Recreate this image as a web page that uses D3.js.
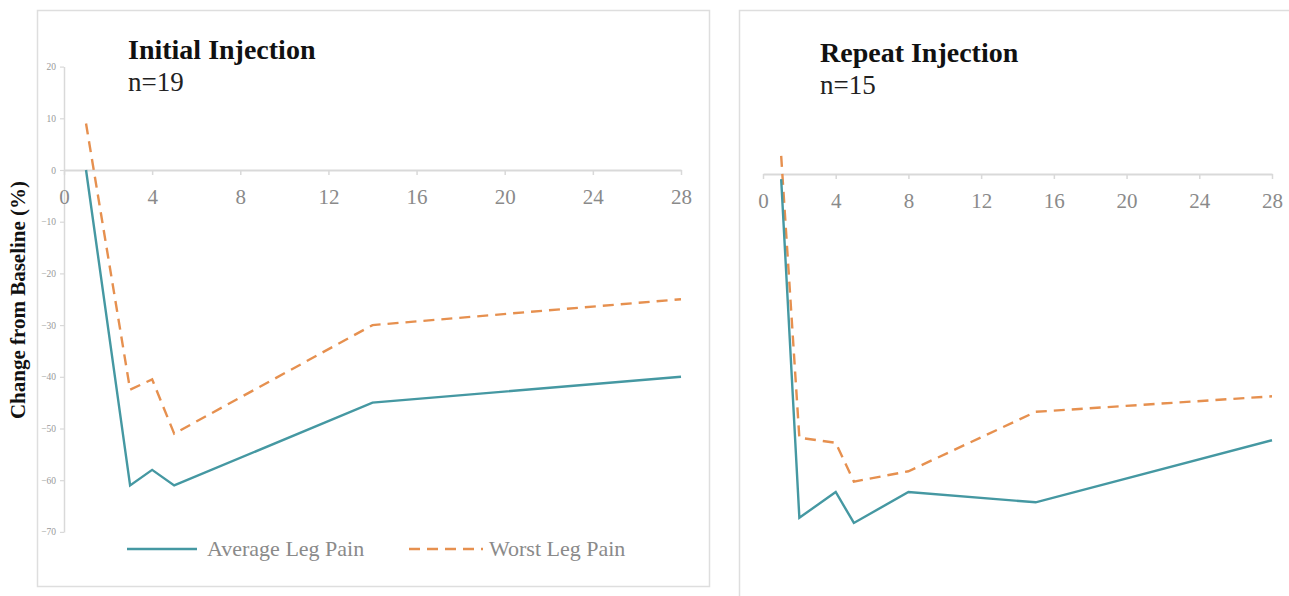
<!DOCTYPE html>
<html>
<head>
<meta charset="utf-8">
<script src="https://cdn.jsdelivr.net/npm/d3@7"></script>
<style>
  html, body { margin: 0; padding: 0; background: #fff; }
  svg { display: block; }
</style>
</head>
<body>
<svg id="chart" width="1289" height="596"></svg>
<script>
// ---- Data ----
const days1 = [1, 3, 4, 5, 14, 28];
const avgPain1 = [0, -61, -58, -61, -45, -40];
const worstPain1 = [9, -42.5, -40.5, -51, -30, -25];

const days2 = [1, 2, 4, 5, 8, 15, 28];
const avgPain2 = [-1, -66.5, -61.5, -67.5, -61.5, -63.5, -51.5];
const worstPain2 = [3.5, -51, -52, -59.5, -57.5, -46, -43];

const xTickValues = [0, 4, 8, 12, 16, 20, 24, 28];
const yTickValues = [20, 10, 0, -10, -20, -30, -40, -50, -60, -70];

const seriesNames = ["Average Leg Pain", "Worst Leg Pain"];
const panelTitles = ["Initial Injection", "Repeat Injection"];
const panelSubtitles = ["n=19", "n=15"];
const yAxisTitle = "Change from Baseline (%)";

// ---- Styles ----
const teal = "#4598a2";
const orange = "#e6904f";
const axisGray = "#d9d9d9";
const labelGray = "#8a8a8a";
const serif = "'Liberation Serif', 'Times New Roman', Times, serif";

const svg = d3.select("#chart");

// Panel borders
svg.append("rect").attr("x", 37.5).attr("y", 10.5).attr("width", 672).attr("height", 576)
  .attr("fill", "none").attr("stroke", "#dedede").attr("stroke-width", 1.5);
svg.append("rect").attr("x", 739.5).attr("y", 10.5).attr("width", 600).attr("height", 640)
  .attr("fill", "none").attr("stroke", "#dedede").attr("stroke-width", 1.5);

function drawPanel(cfg) {
  const g = svg.append("g");
  const x = d3.scaleLinear().domain([0, 28]).range([cfg.x0, cfg.x1]);
  const y = d3.scaleLinear().domain([-70, 20]).range([cfg.yZero + 70 * cfg.ppu, cfg.yZero - 20 * cfg.ppu]);

  if (cfg.showY) {
    const ya = g.append("g").attr("transform", `translate(${cfg.x0},0)`)
      .call(d3.axisLeft(y).tickValues(yTickValues).tickSize(4).tickPadding(4).tickSizeOuter(0));
    ya.attr("font-family", serif);
    ya.select(".domain").attr("stroke", axisGray).attr("stroke-width", 1.5);
    ya.selectAll(".tick line").attr("stroke", axisGray).attr("stroke-width", 1.2);
    ya.selectAll(".tick text").attr("fill", "#999").style("font-size", "9.5px");
  }

  const xa = g.append("g").attr("transform", `translate(0,${y(0)})`)
    .call(d3.axisBottom(x).tickValues(xTickValues).tickSize(5).tickPadding(14).tickSizeOuter(0));
  xa.attr("font-family", serif);
  xa.select(".domain").attr("stroke", axisGray).attr("stroke-width", 2);
  xa.selectAll(".tick line").attr("stroke", axisGray).attr("stroke-width", 1.5);
  xa.selectAll(".tick text").attr("fill", labelGray).style("font-size", "21px");

  const line = d3.line().x(d => x(d[0])).y(d => y(d[1]));

  g.append("path").datum(cfg.days.map((d, i) => [d, cfg.worst[i]]))
    .attr("d", line).attr("fill", "none").attr("stroke", orange)
    .attr("stroke-width", 2.4).attr("stroke-dasharray", "11,7");
  g.append("path").datum(cfg.days.map((d, i) => [d, cfg.avg[i]]))
    .attr("d", line).attr("fill", "none").attr("stroke", teal)
    .attr("stroke-width", 2.4);

  g.append("text").attr("x", cfg.titleX).attr("y", cfg.titleY)
    .style("font-size", "28px").style("font-weight", "bold").attr("fill", "#111")
    .text(cfg.title);
  g.append("text").attr("x", cfg.titleX).attr("y", cfg.titleY + 32)
    .style("font-size", "27px").attr("fill", "#222")
    .text(cfg.subtitle);
}

drawPanel({
  x0: 64, x1: 681, yZero: 170, ppu: 5.17, showY: true,
  days: days1, avg: avgPain1, worst: worstPain1,
  title: panelTitles[0], subtitle: panelSubtitles[0], titleX: 128, titleY: 59
});

drawPanel({
  x0: 763, x1: 1272, yZero: 174, ppu: 5.17, showY: false,
  days: days2, avg: avgPain2, worst: worstPain2,
  title: panelTitles[1], subtitle: panelSubtitles[1], titleX: 820, titleY: 62
});

svg.append("text").attr("transform", "translate(25,300) rotate(-90)")
  .attr("text-anchor", "middle").style("font-size", "21px").style("font-weight", "bold")
  .attr("fill", "#111").text(yAxisTitle);

const legend = svg.append("g");
legend.append("line").attr("x1", 127).attr("x2", 197).attr("y1", 549).attr("y2", 549)
  .attr("stroke", teal).attr("stroke-width", 2.4);
legend.append("text").attr("x", 207).attr("y", 556).style("font-size", "22px")
  .attr("fill", labelGray).text(seriesNames[0]);
legend.append("line").attr("x1", 409).attr("x2", 483).attr("y1", 549).attr("y2", 549)
  .attr("stroke", orange).attr("stroke-width", 2.4).attr("stroke-dasharray", "11,7");
legend.append("text").attr("x", 489).attr("y", 556).style("font-size", "22px")
  .attr("fill", labelGray).text(seriesNames[1]);

svg.selectAll("text").style("font-family", serif);
</script>
</body>
</html>
